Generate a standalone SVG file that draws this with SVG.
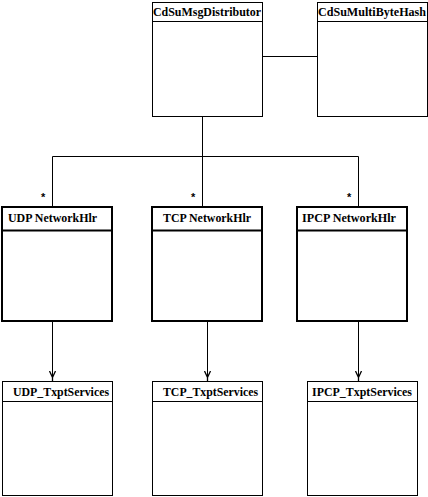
<svg xmlns="http://www.w3.org/2000/svg" width="428" height="497" viewBox="0 0 428 497">
<style>
.box{fill:#fff;stroke:#000;stroke-width:1}
.thick{fill:#fff;stroke:#000;stroke-width:2}
.ln{stroke:#000;stroke-width:1;fill:none}
.lnt{stroke:#000;stroke-width:2;fill:none}
.t{font-family:"Liberation Serif",serif;font-weight:bold;font-size:12px;fill:#000}
.s{font-family:"Liberation Sans",sans-serif;font-weight:bold;font-size:11px;fill:#000}
</style>
<defs>
<marker id="arr" markerWidth="10" markerHeight="8" refX="10" refY="4" orient="auto" markerUnits="userSpaceOnUse" viewBox="0 0 10 8">
<path d="M0,1 L6.5,4 L0,7 M6,4 L10,4" stroke="#000" stroke-width="1.3" fill="none"/>
</marker>
</defs>
<rect width="428" height="497" fill="#fff"/>
<g id="connectors">
<line class="ln" x1="262" y1="56.5" x2="317" y2="56.5"/>
<line class="ln" x1="202.5" y1="116" x2="202.5" y2="156.5"/>
<line class="ln" x1="52.5" y1="156.5" x2="358.5" y2="156.5"/>
<line class="ln" x1="52.5" y1="156.5" x2="52.5" y2="206"/>
<line class="ln" x1="202.5" y1="156.5" x2="202.5" y2="206"/>
<line class="ln" x1="358.5" y1="156.5" x2="358.5" y2="206"/>
<text class="s" x="41" y="201">*</text>
<text class="s" x="191" y="201">*</text>
<text class="s" x="347" y="201">*</text>
<line class="ln" x1="52.5" y1="322" x2="52.5" y2="381" marker-end="url(#arr)"/>
<line class="ln" x1="207.5" y1="322" x2="207.5" y2="381" marker-end="url(#arr)"/>
<line class="ln" x1="358.5" y1="322" x2="358.5" y2="381" marker-end="url(#arr)"/>
</g>
<g id="CdSuMsgDistributor">
<rect class="box" x="152.5" y="2.5" width="110" height="114"/>
<line class="ln" x1="152.5" y1="21.5" x2="262.5" y2="21.5"/>
<text class="t" x="153" y="16" textLength="108" lengthAdjust="spacingAndGlyphs">CdSuMsgDistributor</text>
</g>
<g id="CdSuMultiByteHash">
<rect class="box" x="317.5" y="2.5" width="110" height="114"/>
<line class="ln" x1="317.5" y1="21.5" x2="427.5" y2="21.5"/>
<text class="t" x="318" y="16" textLength="108" lengthAdjust="spacingAndGlyphs">CdSuMultiByteHash</text>
</g>
<g id="UDP_NetworkHlr">
<rect class="thick" x="2" y="207" width="110" height="114"/>
<line class="lnt" x1="2" y1="230.5" x2="112" y2="230.5"/>
<text class="t" x="8" y="222" textLength="89" lengthAdjust="spacingAndGlyphs">UDP NetworkHlr</text>
</g>
<g id="TCP_NetworkHlr">
<rect class="thick" x="152" y="207" width="110" height="114"/>
<line class="lnt" x1="152" y1="230.5" x2="262" y2="230.5"/>
<text class="t" x="163" y="222" textLength="88" lengthAdjust="spacingAndGlyphs">TCP NetworkHlr</text>
</g>
<g id="IPCP_NetworkHlr">
<rect class="thick" x="297" y="207" width="110" height="114"/>
<line class="lnt" x1="297" y1="230.5" x2="407" y2="230.5"/>
<text class="t" x="302" y="222" textLength="94" lengthAdjust="spacingAndGlyphs">IPCP NetworkHlr</text>
</g>
<g id="UDP_TxptServices">
<rect class="box" x="2.5" y="381.5" width="110" height="114"/>
<line class="ln" x1="2.5" y1="401.5" x2="112.5" y2="401.5"/>
<text class="t" x="13" y="396" textLength="96" lengthAdjust="spacingAndGlyphs">UDP_TxptServices</text>
</g>
<g id="TCP_TxptServices">
<rect class="box" x="152.5" y="381.5" width="110" height="114"/>
<line class="ln" x1="152.5" y1="401.5" x2="262.5" y2="401.5"/>
<text class="t" x="163" y="396" textLength="95" lengthAdjust="spacingAndGlyphs">TCP_TxptServices</text>
</g>
<g id="IPCP_TxptServices">
<rect class="box" x="307.5" y="381.5" width="110" height="114"/>
<line class="ln" x1="307.5" y1="401.5" x2="417.5" y2="401.5"/>
<text class="t" x="312" y="396" textLength="100" lengthAdjust="spacingAndGlyphs">IPCP_TxptServices</text>
</g>
</svg>
